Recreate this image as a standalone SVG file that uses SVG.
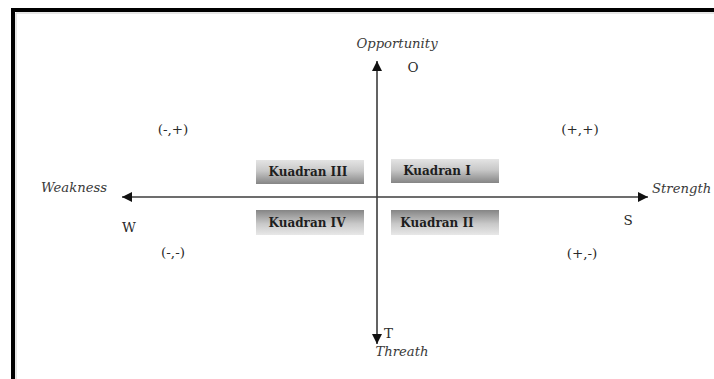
<svg xmlns="http://www.w3.org/2000/svg" width="714" height="379" viewBox="0 0 714 379">
<style>
.lbl{font-family:"DejaVu Serif","Liberation Serif",serif;fill:#2a2a2a;font-size:13.5px}
.it{font-style:italic;fill:#3a3a3a;font-size:13.2px}
.kd{font-family:"DejaVu Serif","Liberation Serif",serif;font-weight:bold;font-size:12px;fill:#1e1e1e;text-anchor:middle}
.axis{stroke:#3c3c3c;stroke-width:1.6;fill:none}
.mid{text-anchor:middle}
</style>
<defs>
<linearGradient id="gTop" x1="0" y1="0" x2="0" y2="1">
<stop offset="0" stop-color="#e4e4e4"/>
<stop offset="0.45" stop-color="#c8c8c8"/>
<stop offset="1" stop-color="#858585"/>
</linearGradient>
<linearGradient id="gBot" x1="0" y1="0" x2="0" y2="1">
<stop offset="0" stop-color="#858585"/>
<stop offset="0.55" stop-color="#c8c8c8"/>
<stop offset="1" stop-color="#e8e8e8"/>
</linearGradient>
<marker id="ah" viewBox="0 0 10 10" refX="10" refY="5" markerWidth="10" markerHeight="10" markerUnits="userSpaceOnUse" orient="auto">
<path d="M0,0 L10,5 L0,10 Z" fill="#111"/>
</marker>
</defs>
<rect x="0" y="0" width="714" height="379" fill="#fff"/>
<path d="M13,379 V10 H714" fill="none" stroke="#000" stroke-width="4"/>
<path d="M16,379 V13 H714" fill="none" stroke="#ccc" stroke-width="1"/>

<g id="connectors">
<line class="axis" x1="377" y1="197" x2="377" y2="61" marker-end="url(#ah)"/>
<line class="axis" x1="377" y1="197" x2="377" y2="344" marker-end="url(#ah)"/>
<line class="axis" x1="377" y1="197" x2="122" y2="197" marker-end="url(#ah)"/>
<line class="axis" x1="377" y1="197" x2="648" y2="197" marker-end="url(#ah)"/>
</g>

<g id="opportunity"><text class="lbl it mid" x="397" y="48">Opportunity</text><text class="lbl mid" x="413" y="72">O</text></g>
<g id="threat"><text class="lbl" x="384" y="338">T</text><text class="lbl it mid" x="402" y="356">Threath</text></g>
<g id="weakness"><text class="lbl it" x="41" y="192">Weakness</text><text class="lbl mid" x="129" y="232">W</text></g>
<g id="strength"><text class="lbl it" x="652" y="193">Strength</text><text class="lbl mid" x="628" y="225">S</text></g>

<g id="q-mp"><text class="lbl mid" x="173" y="134">(-,+)</text></g>
<g id="q-pp"><text class="lbl mid" x="580" y="134">(+,+)</text></g>
<g id="q-mm"><text class="lbl mid" x="173" y="257">(-,-)</text></g>
<g id="q-pm"><text class="lbl mid" x="582" y="258">(+,-)</text></g>

<g id="kuadran-3"><rect x="256" y="160" width="108" height="24" fill="url(#gTop)"/><text class="kd" x="308" y="176">Kuadran III</text></g>
<g id="kuadran-1"><rect x="391" y="159" width="108" height="24" fill="url(#gTop)"/><text class="kd" x="437" y="175">Kuadran I</text></g>
<g id="kuadran-4"><rect x="256" y="210" width="108" height="25" fill="url(#gBot)"/><text class="kd" x="307" y="227">Kuadran IV</text></g>
<g id="kuadran-2"><rect x="391" y="210" width="108" height="25" fill="url(#gBot)"/><text class="kd" x="437" y="227">Kuadran II</text></g>
</svg>
